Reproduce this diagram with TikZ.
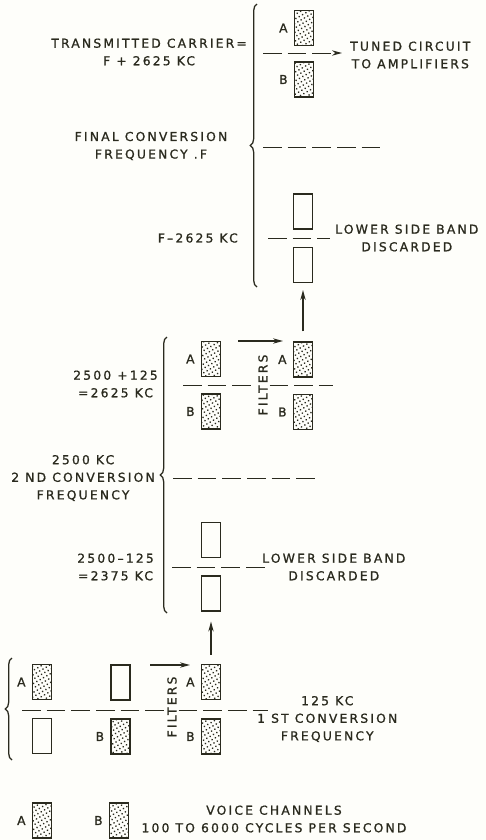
\documentclass[tikz,border=0pt]{standalone}
\usepackage{fontspec}
\setmainfont{DejaVu Sans}[LetterSpace=18,FakeBold=1]
\usetikzlibrary{arrows.meta,positioning,decorations.pathreplacing,patterns.meta}
\definecolor{ink}{HTML}{2A2A1E}
\definecolor{paper}{HTML}{FEFEFA}
\tikzset{
  band/.style={draw=ink,line width=1.2pt,minimum width=5.6mm,minimum height=10.4mm,inner sep=0pt,
    preaction={fill=paper},pattern={Dots[distance=1.15mm,radius=0.28mm,angle=30]},pattern color=ink},
  voidband/.style={draw=ink,fill=paper,line width=1.2pt,minimum width=5.6mm,minimum height=10.4mm,
    inner sep=0pt},
  lbl/.style={text=ink,font=\fontsize{10.5}{15}\selectfont,inner sep=1pt},
  txt/.style={text=ink,font=\fontsize{10.5}{15}\selectfont,align=center,inner sep=0pt},
  dline/.style={draw=ink,line width=0.8pt,dash pattern=on 5.6mm off 1.8mm},
  arr/.style={-{Stealth[length=3mm,width=1.6mm]},line width=1pt,draw=ink},
  brc/.style={draw=ink,line width=1.1pt,decorate,decoration={brace,amplitude=2mm}},
}
\begin{document}
\begin{tikzpicture}[x=0.3mm,y=-0.3mm]
  \fill[paper] (0,0) rectangle (486,840);
  \useasboundingbox (0,0) rectangle (486,840);
  % final conversion
  \node[band] (fA) at (304,28) {};
  \node[band] (fB) at (304,79.5) {};
  \node[lbl,left=1.5mm of fA] (fAl) {A};
  \node[lbl,left=1.5mm of fB] (fBl) {B};
  \node[voidband] (fU) at (303,211.5) {};
  \node[voidband] (fL) at (303,265) {};
  \node[txt,anchor=east] (fcar) at (247,52) {TRANSMITTED CARRIER=\\F + 2625 KC};
  \node[txt,anchor=west] (ftuned) at (350,55) {TUNED CIRCUIT\\TO AMPLIFIERS};
  \node[txt] (ffin) at (151,146) {FINAL CONVERSION\\FREQUENCY .F};
  \node[txt,anchor=east] (fminus) at (238,238) {F–2625 KC};
  \node[txt,anchor=west] (fdisc) at (335,238) {LOWER SIDE BAND\\DISCARDED};
  \coordinate (ft) at (263,53);
  \coordinate (fm1) at (263,147);
  \coordinate (fm2) at (383,147);
  \coordinate (fs1) at (268,238);
  \coordinate (fs2) at (330,238);
  \draw[dline,arr,line width=0.8pt,shorten >=2.4mm] (ft) -- (ft -| ftuned.west);
  \draw[dline] (fm1) -- (fm2);
  \draw[dline] (fs1) -- (fs2);
  \draw[brc] (257,287) -- (257,4);
  % second conversion
  \node[band] (sA1) at (211,359) {};
  \node[band] (sB1) at (211,411.5) {};
  \node[band] (sA2) at (303,359.5) {};
  \node[band] (sB2) at (303,412) {};
  \node[lbl,left=1.5mm of sA1] (sA1l) {A};
  \node[lbl,left=1.5mm of sB1] (sB1l) {B};
  \node[lbl,left=1.5mm of sA2] (sA2l) {A};
  \node[lbl,left=1.5mm of sB2] (sB2l) {B};
  \node[voidband] (sU) at (211,540) {};
  \node[voidband] (sL) at (211,593.5) {};
  \node[txt,rotate=90,inner sep=1.5pt] (sflt) at (263,385) {FILTERS};
  \node[txt,anchor=east] (splus) at (158,384) {2500 +125\\=2625 KC};
  \node[txt,anchor=east] (sconv) at (155,478) {2500 KC\\2 ND CONVERSION\\FREQUENCY};
  \node[txt,anchor=east] (sminus) at (154,567) {2500–125\\=2375 KC};
  \node[txt,anchor=west] (sdisc) at (262,567) {LOWER SIDE BAND\\DISCARDED};
  \coordinate (sa1) at (238,341);
  \coordinate (sa2) at (283,341);
  \coordinate (sd1) at (183,385);
  \coordinate (sd2) at (333,385);
  \coordinate (sm1) at (173,478);
  \coordinate (sm2) at (320,478);
  \coordinate (ss1) at (172,567);
  \coordinate (ss2) at (268,567);
  \draw[arr] (sa1) -- (sa2);
  \draw[dline] (sd1) -- (sd1 -| sflt.north);
  \draw[dline] (sd2 -| sflt.south) -- (sd2);
  \draw[dline] (sm1) -- (sm2);
  \draw[dline] (ss1) -- (ss2);
  \draw[brc] (167,613) -- (167,337);
  \draw[arr,shorten <=3mm,shorten >=2.1mm] (sA2.north) -- (fL.south);
  % first conversion
  \node[band] (cA1) at (42,682) {};
  \node[voidband] (cV1) at (42,736) {};
  \node[voidband] (cV2) at (120.5,682.5) {};
  \node[band] (cB1) at (120.5,736.5) {};
  \node[band] (cA2) at (211,682) {};
  \node[band] (cB2) at (211,736.5) {};
  \node[lbl,left=1.5mm of cA1] (cA1l) {A};
  \node[lbl,left=1.5mm of cB1] (cB1l) {B};
  \node[lbl,left=1.5mm of cA2] (cA2l) {A};
  \node[lbl,left=1.5mm of cB2] (cB2l) {B};
  \node[txt,rotate=90,inner sep=1.5pt] (cflt) at (172,707) {FILTERS};
  \node[txt,anchor=west] (cfreq) at (257,719) {125 KC\\1 ST CONVERSION\\FREQUENCY};
  \coordinate (ca1) at (150,665);
  \coordinate (ca2) at (190,665);
  \coordinate (cd1) at (22,710);
  \coordinate (cd2) at (268,710);
  \draw[arr] (ca1) -- (ca2);
  \draw[dline] (cd1) -- (cd1 -| cflt.north);
  \draw[dline] (cd2 -| cflt.south) -- (cd2);
  \draw[brc] (12,760) -- (12,658);
  \draw[arr,shorten <=2.7mm,shorten >=3mm] (cA2.north) -- (sL.south);
  % legend
  \node[band] (kA) at (42,820.5) {};
  \node[band] (kB) at (119,820.5) {};
  \node[lbl,left=1.5mm of kA] (kAl) {A};
  \node[lbl,left=1.5mm of kB] (kBl) {B};
  \node[txt] (kvoice) at (274,819) {VOICE CHANNELS\\100 TO 6000 CYCLES PER SECOND};
\end{tikzpicture}
\end{document}
